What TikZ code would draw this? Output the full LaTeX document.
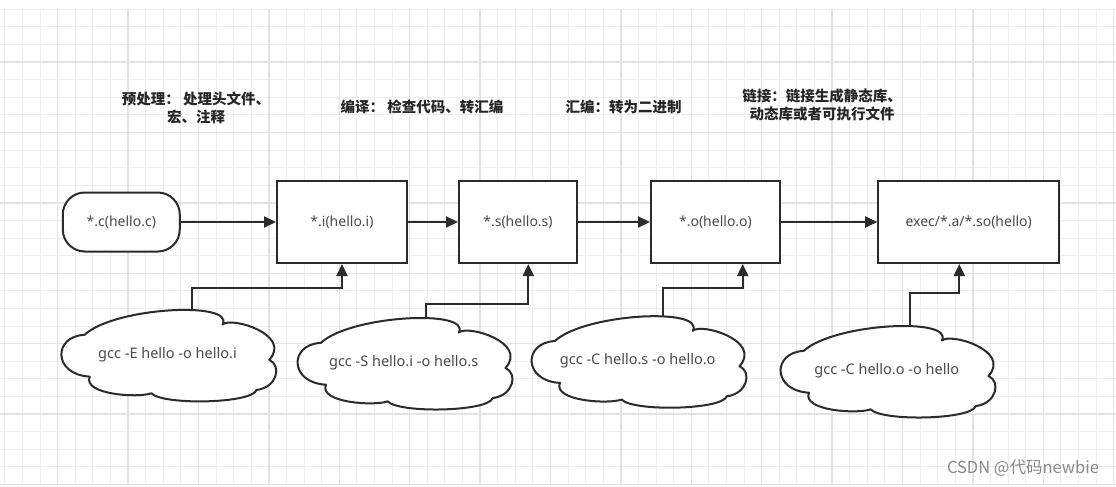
\documentclass[tikz,border=0pt]{standalone}
\usepackage{fontspec}
\newfontfamily\cjk{Noto Sans CJK SC}
\newfontfamily\latin{Noto Sans}
\usetikzlibrary{arrows.meta}
\pgfdeclarelayer{gridlayer}
\pgfdeclarelayer{bglayer}
\pgfsetlayers{gridlayer,bglayer,main}
\definecolor{ink}{HTML}{2B2B2B}
\definecolor{txt}{HTML}{4A4A4A}
\definecolor{gridminor}{HTML}{EEEEEE}
\definecolor{gridmajor}{HTML}{E3E3E3}
\definecolor{wmark}{HTML}{8A8A8A}
% cloud outline drawn round the named node #1 (212 x 91)
\newcommand\cloudoutline[1]{%
  \begin{scope}[shift={(#1.north west)},x=212pt,y=-91pt]
    \path[cloudline] (0.110,0.283)
      .. controls (0.25,-0.02) and (0.82,-0.09) .. (0.761,0.17)
      .. controls (0.80,0.08) and (1.09,0.28) .. (0.981,0.559)
      .. controls (1.04,0.62) and (1.02,0.86) .. (0.921,0.890)
      .. controls (0.90,1.04) and (0.48,1.06) .. (0.425,0.926)
      .. controls (0.36,0.98) and (0.10,0.94) .. (0.134,0.743)
      .. controls (-0.04,0.72) and (-0.04,0.30) .. cycle;
  \end{scope}}
\begin{document}
\begin{tikzpicture}[x=1pt,y=-1pt,
  box/.style={draw=ink,line width=2pt,fill=white,inner sep=0pt,font=\latin\fontsize{14}{16}\selectfont,text=txt},
  filebox/.style={box,minimum height=82pt},
  startbox/.style={box,rounded corners=22pt,minimum width=117pt,minimum height=59pt},
  cmdcloud/.style={rectangle,minimum width=212pt,minimum height=91pt,inner sep=0pt,font=\latin\fontsize{14.5}{16}\selectfont,text=txt},
  cloudline/.style={draw=ink,line width=2pt,fill=white,line join=round},
  note/.style={font=\cjk\bfseries\fontsize{14.5}{17.7}\selectfont,text=black!85,align=center},
  arr/.style={draw=ink,line width=2pt,-{Triangle[length=12pt,width=11pt]}},
  minorline/.style={draw=gridminor,line width=1pt},
  majorline/.style={draw=gridmajor,line width=1.4pt},
]
\useasboundingbox (0,0) rectangle (1116,487);
\begin{pgfonlayer}{gridlayer}
  \fill[white] (0,0) rectangle (1116,487);
  \foreach \k in {0,...,63} { \draw[minorline] ({4.9+17.6*\k},9.2) -- ({4.9+17.6*\k},484.4); }
  \foreach \k in {0,...,27} { \draw[minorline] (0,{9.2+17.6*\k}) -- (1116,{9.2+17.6*\k}); }
  \foreach \k in {0,...,15} { \draw[majorline] ({57.7+70.4*\k},9.2) -- ({57.7+70.4*\k},484.4); }
  \foreach \k in {0,...,6} { \draw[majorline] (0,{62+70.4*\k}) -- (1116,{62+70.4*\k}); }
\end{pgfonlayer}

% labels
\node[note] (n1) at (196,108) {预处理： 处理头文件、\\宏、注释};
\node[note] (n2) at (422,107.3) {编译： 检查代码、转汇编};
\node[note] (n3) at (623.5,107.3) {汇编：转为二进制};
\node[note] (n4) at (822,105) {链接：链接生成静态库、\\动态库或者可执行文件};

% file boxes
\node[startbox] (c) at (121.3,222) {*.c(hello.c)};
\node[filebox,minimum width=130pt] (i) at (342,222) {*.i(hello.i)};
\node[filebox,minimum width=118pt] (s) at (518,222) {*.s(hello.s)};
\node[filebox,minimum width=129pt] (o) at (715.5,222) {*.o(hello.o)};
\node[filebox,minimum width=181pt] (e) at (968.7,222) {exec/*.a/*.so(hello)};

% command clouds
\node[cmdcloud] (k1) at (167.5,354.7) {gcc -E hello -o hello.i};
\node[cmdcloud] (k2) at (403.7,362.8) {gcc -S hello.i -o hello.s};
\node[cmdcloud] (k3) at (637.7,361) {gcc -C hello.s -o hello.o};
\node[cmdcloud] (k4) at (886.7,370.8) {gcc -C hello.o -o hello};

% watermark
\node[font=\cjk\fontsize{16.5}{19}\selectfont,text=wmark] (wm) at (1023,468.5) {CSDN @代码newbie};

\begin{pgfonlayer}{bglayer}
  \draw[arr] (c.east) -- (i.west);
  \draw[arr] (i.east) -- (s.west);
  \draw[arr] (s.east) -- (o.west);
  \draw[arr] (o.east) -- (e.west);
  \draw[arr] ([xshift=24.2pt]k1.center) |- ([yshift=-23.7pt]i.south) -- (i.south);
  \draw[arr] ([xshift=22pt]k2.center) |- ([xshift=10.3pt,yshift=-39.7pt]s.south) -- ([xshift=10.3pt]s.south);
  \draw[arr] ([xshift=25pt]k3.center) |- ([xshift=27.2pt,yshift=-23.7pt]o.south) -- ([xshift=27.2pt]o.south);
  \draw[arr] ([xshift=23.3pt]k4.center) |- ([xshift=-9.4pt,yshift=-29.3pt]e.south) -- ([xshift=-9.4pt]e.south);
  \cloudoutline{k1}
  \cloudoutline{k2}
  \cloudoutline{k3}
  \cloudoutline{k4}
\end{pgfonlayer}
\end{tikzpicture}
\end{document}
